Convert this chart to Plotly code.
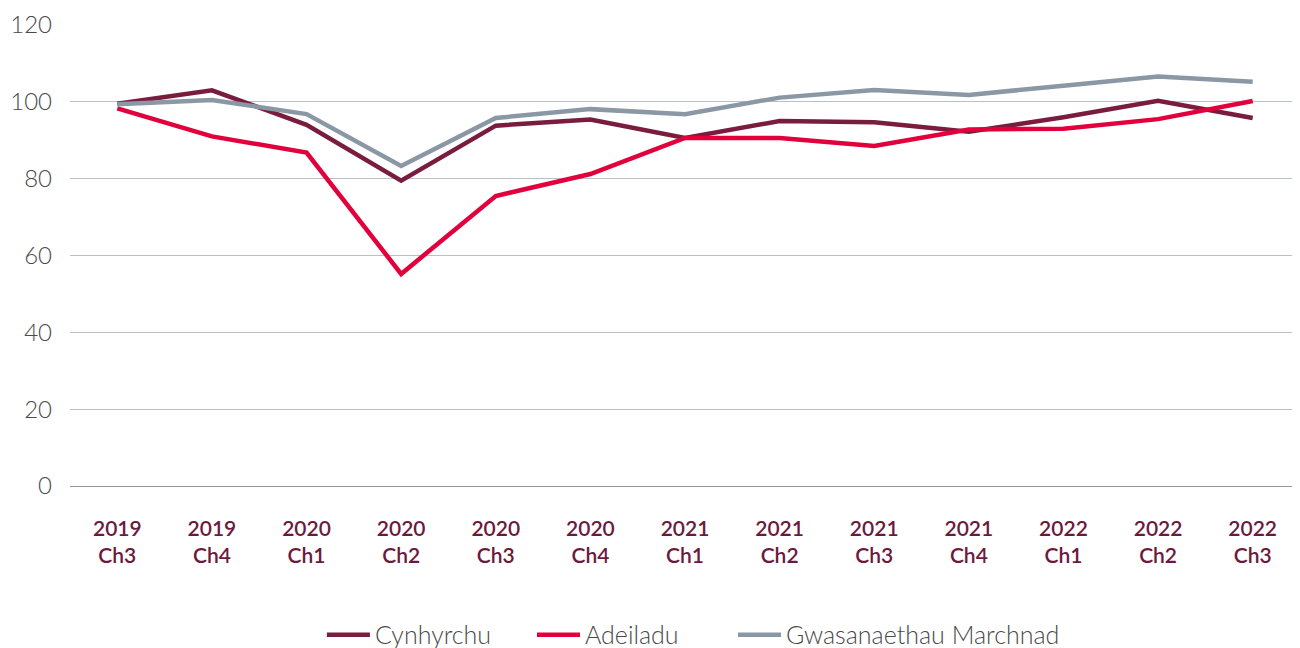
import plotly.graph_objects as go

categories = ["2019<br>Ch3", "2019<br>Ch4", "2020<br>Ch1", "2020<br>Ch2", "2020<br>Ch3", "2020<br>Ch4",
              "2021<br>Ch1", "2021<br>Ch2", "2021<br>Ch3", "2021<br>Ch4", "2022<br>Ch1", "2022<br>Ch2", "2022<br>Ch3"]
cynhyrchu = [99.5, 103.0, 94.0, 79.5, 93.8, 95.4, 90.6, 95.0, 94.7, 92.2, 96.0, 100.3, 95.8]
adeiladu = [98.3, 91.0, 86.8, 55.2, 75.5, 81.2, 90.6, 90.6, 88.5, 92.8, 93.0, 95.5, 100.2]
gwasanaethau = [99.4, 100.5, 96.8, 83.3, 95.8, 98.1, 96.8, 101.1, 103.1, 101.8, 104.2, 106.6, 105.2]
y_ticks = [0, 20, 40, 60, 80, 100, 120]

series = [
    ("Cynhyrchu", cynhyrchu, "#7a1c3e", "legend"),
    ("Adeiladu", adeiladu, "#e2003c", "legend2"),
    ("Gwasanaethau Marchnad", gwasanaethau, "#8a98a5", "legend3"),
]

fig = go.Figure()
for name, vals, col, lg in series:
    fig.add_trace(go.Scatter(x=categories, y=vals, name=name, mode="lines",
                             line=dict(color=col, width=4.5), legend=lg))

legend_font = dict(family="Lato, sans-serif", size=25, color="#4a4a4a", weight=300)
legend_common = dict(orientation="h", xanchor="left", y=-0.323, yanchor="middle",
                     font=legend_font, itemwidth=43, bgcolor="rgba(0,0,0,0)")

fig.update_layout(
    width=1292, height=640,
    margin=dict(l=62, r=0, t=17, b=162, autoexpand=False),
    plot_bgcolor="white", paper_bgcolor="white",
    font=dict(family="Lato, sans-serif", size=20, color="#4a4a4a"),
    showlegend=True,
    legend=dict(x=0.2048, **legend_common),
    legend2=dict(x=0.3756, **legend_common),
    legend3=dict(x=0.5390, **legend_common),
)
fig.update_xaxes(
    type="category", range=[-0.5, 12.5], showgrid=False, showline=False, zeroline=False,
    tickfont=dict(family="Lato, sans-serif", size=21, color="#6b1a3d", weight=600),
    ticks="", ticklabelstandoff=28,
)
fig.update_yaxes(
    range=[0, 120], tickvals=y_ticks, showgrid=True, gridcolor="#b9c0c8", gridwidth=1,
    zeroline=True, zerolinecolor="#8e97a2", zerolinewidth=1.2,
    tickfont=dict(family="Lato, sans-serif", size=24, color="#4a4a4a", weight=300),
    ticks="", ticklabelstandoff=17,
)

fig.write_html("out.html")
